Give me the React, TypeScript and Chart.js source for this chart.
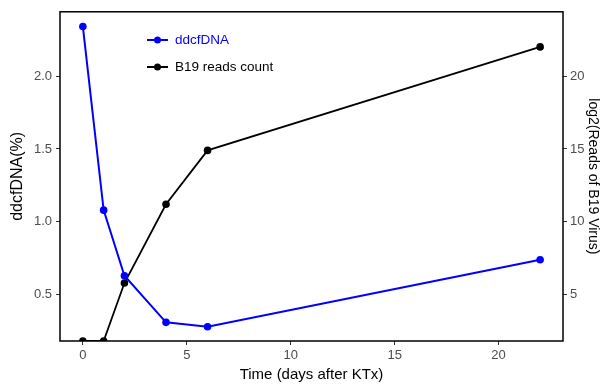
import React, { useEffect, useRef } from "react";
import { Chart, registerables } from "chart.js";

Chart.register(...registerables);

const days = [0, 1, 2, 4, 6, 22];
const ddcfDNA = [2.34, 1.08, 0.63, 0.31, 0.28, 0.74];
const b19Log2 = [1.82, 1.82, 5.8, 11.2, 14.9, 22.0];
const xTicks = [0, 5, 10, 15, 20];
const leftTicks = [0.5, 1.0, 1.5, 2.0];
const rightTicks = [5, 10, 15, 20];

const BLUE = "#0000ff";
const FONT = "'Liberation Sans', Arial, sans-serif";
const TICK_COLOR = "#4d4d4d";

const boxAndLegend = {
  id: "boxAndLegend",
  afterDatasetsDraw(chart: any) {
    const { ctx, chartArea } = chart;
    ctx.save();
    ctx.strokeStyle = "#000";
    ctx.lineWidth = 1.5;
    ctx.strokeRect(chartArea.left, chartArea.top, chartArea.right - chartArea.left, chartArea.bottom - chartArea.top);
    const items = [
      { label: "ddcfDNA", color: BLUE, textColor: BLUE, y: 40 },
      { label: "B19 reads count", color: "#000", textColor: "#000", y: 67 },
    ];
    items.forEach((it) => {
      ctx.strokeStyle = it.color;
      ctx.lineWidth = 2;
      ctx.beginPath();
      ctx.moveTo(147, it.y);
      ctx.lineTo(168, it.y);
      ctx.stroke();
      ctx.fillStyle = it.color;
      ctx.beginPath();
      ctx.arc(157.5, it.y, 3.5, 0, Math.PI * 2);
      ctx.fill();
      ctx.fillStyle = it.textColor;
      ctx.font = `13.5px ${FONT}`;
      ctx.textBaseline = "middle";
      ctx.textAlign = "left";
      ctx.fillText(it.label, 175, it.y);
    });
    ctx.restore();
  },
};

export default function App() {
  const ref = useRef<HTMLCanvasElement>(null);
  useEffect(() => {
    const chart = new Chart(ref.current!, {
      type: "line",
      data: {
        datasets: [
          {
            label: "ddcfDNA",
            data: days.map((d, i) => ({ x: d, y: ddcfDNA[i] })),
            borderColor: BLUE,
            backgroundColor: BLUE,
            borderWidth: 2,
            pointRadius: 3.8,
            pointBorderWidth: 0,
            yAxisID: "y",
            clip: 0,
          },
          {
            label: "B19 reads count",
            data: days.map((d, i) => ({ x: d, y: b19Log2[i] })),
            borderColor: "#000",
            backgroundColor: "#000",
            borderWidth: 1.8,
            pointRadius: 3.8,
            pointBorderWidth: 0,
            yAxisID: "y1",
            clip: 0,
          },
        ],
      },
      options: {
        animation: false,
        responsive: false,
        layout: { padding: { top: 9 } },
        plugins: { legend: { display: false }, tooltip: { enabled: false } },
        scales: {
          x: {
            type: "linear",
            min: -1.1,
            max: 23.1,
            afterBuildTicks: (s: any) => {
              s.ticks = xTicks.map((v) => ({ value: v }));
            },
            afterFit: (s: any) => {
              s.height = 44;
            },
            grid: { drawOnChartArea: false, drawTicks: true, tickLength: 4, tickColor: "#333", lineWidth: 1 },
            border: { display: false },
            ticks: { color: TICK_COLOR, font: { family: FONT, size: 13 }, padding: 3, maxRotation: 0 },
            title: { display: true, text: "Time (days after KTx)", color: "#000", font: { family: FONT, size: 15 }, padding: { top: 1, bottom: 1 } },
          },
          y: {
            position: "left",
            min: 0.182,
            max: 2.441,
            afterBuildTicks: (s: any) => {
              s.ticks = leftTicks.map((v) => ({ value: v }));
            },
            afterFit: (s: any) => {
              s.width = 60;
            },
            grid: { drawOnChartArea: false, drawTicks: true, tickLength: 4, tickColor: "#333" },
            border: { display: false },
            ticks: { color: TICK_COLOR, font: { family: FONT, size: 13 }, padding: 4, callback: (v: any) => Number(v).toFixed(1) },
            title: { display: true, text: "ddcfDNA(%)", color: "#000", font: { family: FONT, size: 16 }, padding: { top: 8, bottom: 1 } },
          },
          y1: {
            position: "right",
            min: 1.82,
            max: 24.41,
            afterBuildTicks: (s: any) => {
              s.ticks = rightTicks.map((v) => ({ value: v }));
            },
            afterFit: (s: any) => {
              s.width = 44;
            },
            grid: { drawOnChartArea: false, drawTicks: true, tickLength: 4, tickColor: "#333" },
            border: { display: false },
            ticks: { color: TICK_COLOR, font: { family: FONT, size: 13 }, padding: 3 },
            title: { display: true, text: "log2(Reads of B19 Virus)", color: "#000", font: { family: FONT, size: 14 }, padding: { top: 6, bottom: 1 } },
          },
        },
      },
      plugins: [boxAndLegend],
    } as any);
    return () => chart.destroy();
  }, []);
  return (
    <div style={{ position: "absolute", left: 0, top: 0, width: 607, height: 385, background: "#fff" }}>
      <canvas ref={ref} width={607} height={385} style={{ width: 607, height: 385 }} />
    </div>
  );
}
